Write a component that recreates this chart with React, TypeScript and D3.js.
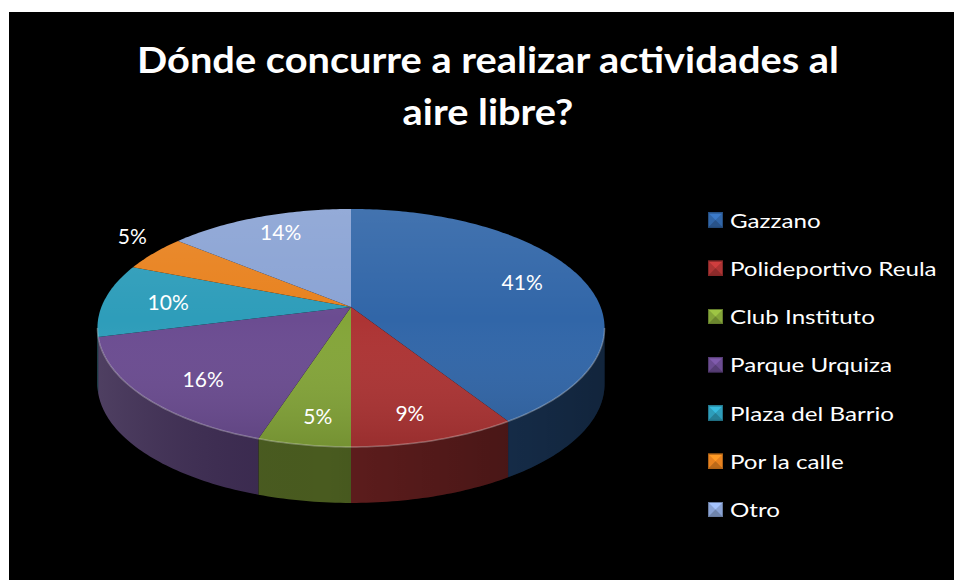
import React, { useMemo } from "react";
import * as d3 from "d3";

const categories = [
  "Gazzano",
  "Polideportivo Reula",
  "Club Instituto",
  "Parque Urquiza",
  "Plaza del Barrio",
  "Por la calle",
  "Otro",
];
const values = [41, 9, 5, 16, 10, 5, 14];
const colors = ["#3166a8", "#ad3434", "#84a539", "#6b4c91", "#2e9dba", "#e8821f", "#8aa3d4"];
const titleLines = ["Dónde concurre a realizar actividades al", "aire libre?"];
// labels that Excel pushed outside the pie
const outsideLabels = ["Por la calle"];

const W = 954;
const H = 580;
const FONT = "Lato, 'Open Sans', sans-serif";

// perspective pie: disk centre, horizontal / vertical radius, perspective factor
const CX = 351;
const CY = 307;
const A = 249.6;
const B = 115.3;
const K = -0.176;
const DEPTH = 56;

const project = (theta: number, r: number, dy = 0): [number, number] => {
  const u = r * Math.sin(theta);
  const v = -r * Math.cos(theta);
  const d = 1 + K * v;
  return [CX + (A * u) / d, CY + (B * v) / d + dy];
};

const arcPoints = (a0: number, a1: number, r = 1, dy = 0) => {
  const n = Math.max(2, Math.ceil(((a1 - a0) * 180) / Math.PI));
  return d3.range(n + 1).map((i) => project(a0 + ((a1 - a0) * i) / n, r, dy));
};

const line = d3.line();

export default function App() {
  const slices = useMemo(
    () =>
      d3
        .pie<number>()
        .sort(null)
        .startAngle(0)
        .endAngle(2 * Math.PI)(values),
    []
  );

  // front side is visible between the two horizontal extremes of the ellipse
  const thR = Math.acos(K);
  const thL = 2 * Math.PI - thR;

  const legendY = d3.scalePoint<string>().domain(categories).range([220, 509.5]);

  return (
    <svg
      width={W}
      height={H}
      style={{ position: "absolute", left: 0, top: 0, display: "block" }}
    >
      <defs>
        <linearGradient id="topShade" gradientUnits="userSpaceOnUse" x1="0" y1={CY - B} x2="0" y2={CY + 140}>
          <stop offset="0" stopColor="#fff" stopOpacity={0.1} />
          <stop offset="0.5" stopColor="#fff" stopOpacity={0} />
          <stop offset="1" stopColor="#000" stopOpacity={0.12} />
        </linearGradient>
        <linearGradient id="sideShade" gradientUnits="userSpaceOnUse" x1={CX - 253} y1="0" x2={CX + 253} y2="0">
          <stop offset="0" stopColor="#fff" stopOpacity={0.1} />
          <stop offset="0.45" stopColor="#000" stopOpacity={0} />
          <stop offset="1" stopColor="#000" stopOpacity={0.35} />
        </linearGradient>
      </defs>
      <rect x={0} y={0} width={W} height={H} fill="#fff" />
      <rect x={9} y={12} width={W - 9} height={H - 12} fill="#000" />

      {titleLines.map((t, i) => (
        <text
          key={t}
          transform={`translate(488,${73 + i * 52}) scale(1.075,1)`}
          textAnchor="middle"
          fill="#fff"
          fontFamily={FONT}
          fontWeight="bold"
          fontSize={37}
        >
          {t}
        </text>
      ))}

      {/* sides */}
      {slices.map((s, i) => {
        const a0 = Math.max(s.startAngle, thR);
        const a1 = Math.min(s.endAngle, thL);
        if (a1 <= a0) return null;
        const pts = [...arcPoints(a0, a1), ...arcPoints(a0, a1, 1, DEPTH).reverse()];
        const d = line(pts) + "Z";
        return (
          <g key={"side" + i}>
            <path d={d} fill={d3.interpolateRgb(colors[i], "#000")(0.45)} />
            <path d={d} fill="url(#sideShade)" />
          </g>
        );
      })}

      {/* top face */}
      {slices.map((s, i) => {
        const pts = [project(0, 0), ...arcPoints(s.startAngle, s.endAngle)];
        const d = line(pts) + "Z";
        return (
          <g key={"top" + i}>
            <path d={d} fill={colors[i]} />
            <path d={d} fill="url(#topShade)" />
          </g>
        );
      })}

      {/* rim highlight along the front edge */}
      <path
        d={line(arcPoints(thR, thL)) ?? ""}
        fill="none"
        stroke="#fff"
        strokeOpacity={0.3}
        strokeWidth={1.5}
      />

      {/* data labels */}
      {slices.map((s, i) => {
        const mid = (s.startAngle + s.endAngle) / 2;
        const out = outsideLabels.includes(categories[i]);
        const [x] = project(mid, out ? 1.12 : 0.74);
        const [, y] = project(mid, out ? 1.36 : 0.82);
        return (
          <text
            key={"lab" + i}
            x={x}
            y={y}
            textAnchor="middle"
            dominantBaseline="central"
            fill="#fff"
            fontFamily={FONT}
            fontSize={21}
          >
            {Math.round((values[i] / d3.sum(values)) * 100)}%
          </text>
        );
      })}

      {/* legend */}
      {categories.map((c, i) => {
        const y = legendY(c) ?? 0;
        const x0 = 708;
        const sz = 15;
        const col = d3.color(colors[i])!;
        const cx = x0 + sz / 2;
        const cy = y;
        const t = y - sz / 2;
        const b = y + sz / 2;
        return (
          <g key={"leg" + c}>
            <rect x={x0} y={t} width={sz} height={sz} fill={colors[i]} />
            <path d={`M${x0},${t}L${x0 + sz},${t}L${cx},${cy}Z`} fill={col.brighter(0.5).toString()} />
            <path d={`M${x0},${b}L${x0 + sz},${b}L${cx},${cy}Z`} fill={col.darker(0.6).toString()} />
            <rect x={x0 + 0.5} y={t + 0.5} width={sz - 1} height={sz - 1} fill="none" stroke={col.darker(0.8).toString()} />
            <text
              transform={`translate(730,${y}) scale(1.24,1)`}
              dominantBaseline="central"
              fill="#fff"
              fontFamily={FONT}
              fontSize={19.5}
            >
              {c}
            </text>
          </g>
        );
      })}
    </svg>
  );
}
